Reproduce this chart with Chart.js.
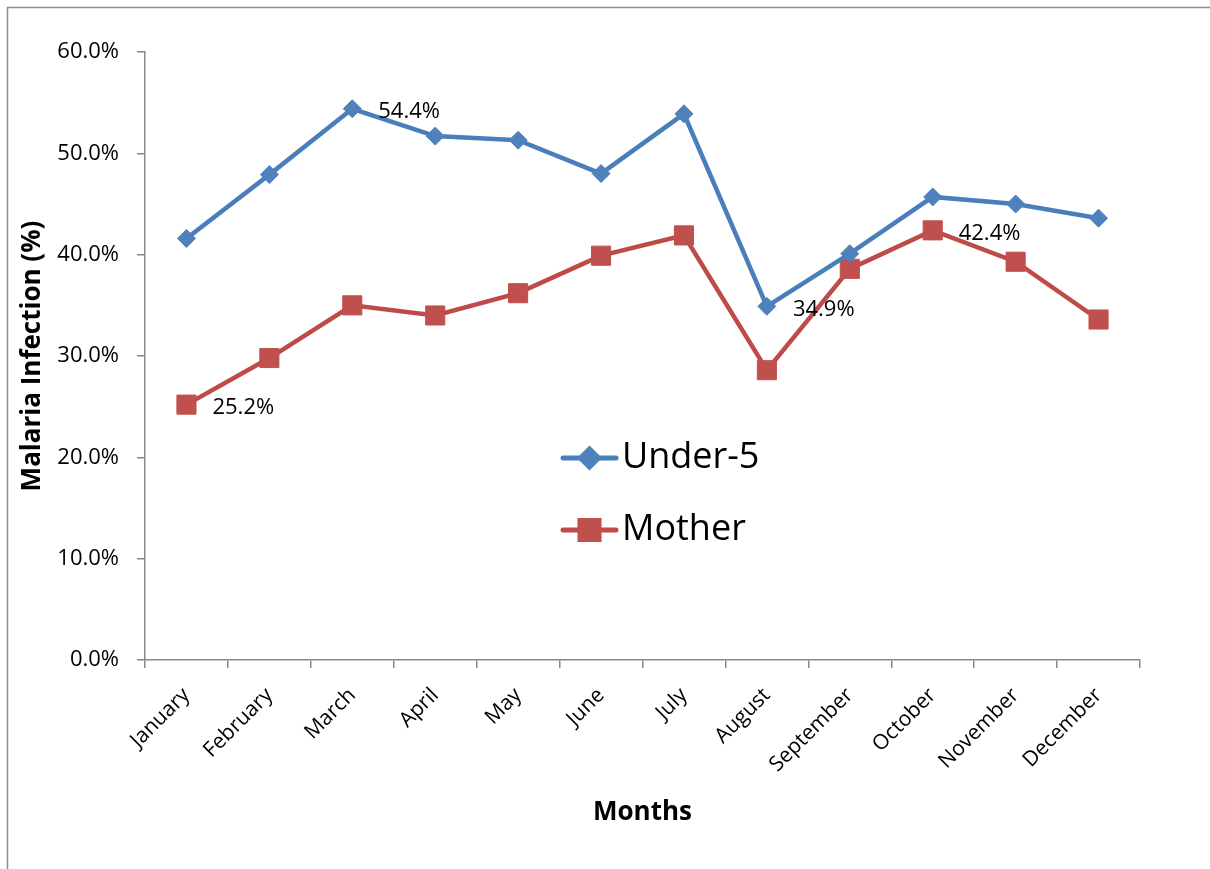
<!DOCTYPE html>
<html>
<head>
<meta charset="utf-8">
<script src="https://cdn.jsdelivr.net/npm/chart.js@4.4.1/dist/chart.umd.min.js"></script>
<style>
  html, body { margin: 0; padding: 0; background: #fff; }
  #wrap { width: 1210px; height: 869px; position: relative; }
</style>
</head>
<body>
<div id="wrap"><canvas id="myChart"></canvas></div>
<script>
// Datos
const months = ['January', 'February', 'March', 'April', 'May', 'June', 'July', 'August', 'September', 'October', 'November', 'December'];
const under5 = [41.6, 47.9, 54.4, 51.7, 51.3, 48.0, 53.9, 34.9, 40.1, 45.7, 45.0, 43.6];
const mother = [25.2, 29.8, 35.0, 34.0, 36.2, 39.9, 41.9, 28.6, 38.6, 42.4, 39.3, 33.6];
const yTicks = [0, 10, 20, 30, 40, 50, 60];
// puntos con etiqueta: [serie, indice]
const labelled = [[0, 2], [0, 7], [1, 0], [1, 9]];

const font = '"Open Sans", "Noto Sans", sans-serif';
const axisColor = '#898989';

// Marco gris del grafico
const frame = {
    id: 'frame',
    beforeDraw(chart) {
        const c = chart.ctx;
        c.save();
        c.strokeStyle = '#8c8c8c';
        c.lineWidth = 1.5;
        c.beginPath();
        c.moveTo(7.5, chart.height);
        c.lineTo(7.5, 7.5);
        c.lineTo(chart.width, 7.5);
        c.stroke();
        c.restore();
    }
};

// Etiquetas de datos
const dataLabels = {
    id: 'dataLabels',
    afterDatasetsDraw(chart) {
        const c = chart.ctx;
        c.save();
        c.font = '22px ' + font;
        c.fillStyle = '#000';
        c.textAlign = 'left';
        c.textBaseline = 'middle';
        labelled.forEach(([s, i]) => {
            const pt = chart.getDatasetMeta(s).data[i];
            const v = chart.data.datasets[s].data[i];
            c.fillText(v.toFixed(1) + '%', pt.x + 26, pt.y + 3);
        });
        c.restore();
    }
};

// Leyenda dentro del area
const legendBox = {
    id: 'legendBox',
    afterDraw(chart) {
        const c = chart.ctx;
        chart.data.datasets.forEach((ds, i) => {
            const y = 458 + i * 72;
            c.save();
            c.strokeStyle = ds.borderColor;
            c.lineWidth = 5;
            c.lineCap = 'round';
            c.beginPath();
            c.moveTo(563, y);
            c.lineTo(616, y);
            c.stroke();
            c.fillStyle = ds.pointBackgroundColor;
            c.strokeStyle = ds.pointBackgroundColor;
            Chart.helpers.drawPoint(c, {
                pointStyle: ds.pointStyle,
                radius: ds.pointRadius,
                rotation: 0,
                borderWidth: 1
            }, 589.5, y);
            c.fillStyle = '#000';
            c.font = '36px ' + font;
            c.textAlign = 'left';
            c.textBaseline = 'middle';
            c.fillText(ds.label, 622, y);
            c.restore();
        });
    }
};

const ctx = document.getElementById('myChart');

new Chart(ctx, {
    type: 'line',
    data: {
        labels: months,
        datasets: [{
            label: 'Under-5',
            data: under5,
            borderColor: '#4A7EBB',
            borderWidth: 4.5,
            pointStyle: 'rectRot',
            pointRadius: 9,
            pointBackgroundColor: '#4F81BD',
            pointBorderColor: '#4F81BD',
            pointBorderWidth: 1,
            tension: 0
        }, {
            label: 'Mother',
            data: mother,
            borderColor: '#BE4B48',
            borderWidth: 4.5,
            pointStyle: 'rect',
            pointRadius: 13.5,
            pointBackgroundColor: '#C0504D',
            pointBorderColor: '#C0504D',
            pointBorderWidth: 1,
            tension: 0
        }]
    },
    options: {
        responsive: true,
        maintainAspectRatio: false,
        animation: false,
        layout: {
            padding: { left: 8, top: 52, right: 70, bottom: 29 }
        },
        plugins: {
            legend: { display: false },
            tooltip: { enabled: false }
        },
        scales: {
            x: {
                offset: true,
                afterFit: (scale) => { scale.height = 180; },
                grid: {
                    offset: true,
                    drawOnChartArea: false,
                    drawTicks: true,
                    tickLength: 8,
                    color: axisColor,
                    lineWidth: 1.5
                },
                border: { display: true, color: axisColor, width: 1.5 },
                ticks: {
                    autoSkip: false,
                    maxRotation: 45,
                    minRotation: 45,
                    padding: 15,
                    color: '#000',
                    font: { family: font, size: 21 }
                },
                title: {
                    display: true,
                    text: 'Months',
                    color: '#000',
                    font: { family: font, size: 26, weight: 'bold' },
                    padding: { top: 0, bottom: 12 }
                }
            },
            y: {
                min: 0,
                max: 60,
                afterFit: (scale) => { scale.width = 137; },
                afterBuildTicks: (scale) => {
                    scale.ticks = yTicks.map(v => ({ value: v }));
                },
                grid: {
                    drawOnChartArea: false,
                    drawTicks: true,
                    tickLength: 8,
                    color: axisColor,
                    lineWidth: 1.5
                },
                border: { display: true, color: axisColor, width: 1.5 },
                ticks: {
                    padding: 18,
                    color: '#000',
                    font: { family: font, size: 22 },
                    callback: (v) => v.toFixed(1) + '%'
                },
                title: {
                    display: true,
                    text: 'Malaria Infection (%)',
                    color: '#000',
                    font: { family: font, size: 26, weight: 'bold' },
                    padding: { top: 9, bottom: 0 }
                }
            }
        }
    },
    plugins: [frame, dataLabels, legendBox]
});
</script>
</body>
</html>
